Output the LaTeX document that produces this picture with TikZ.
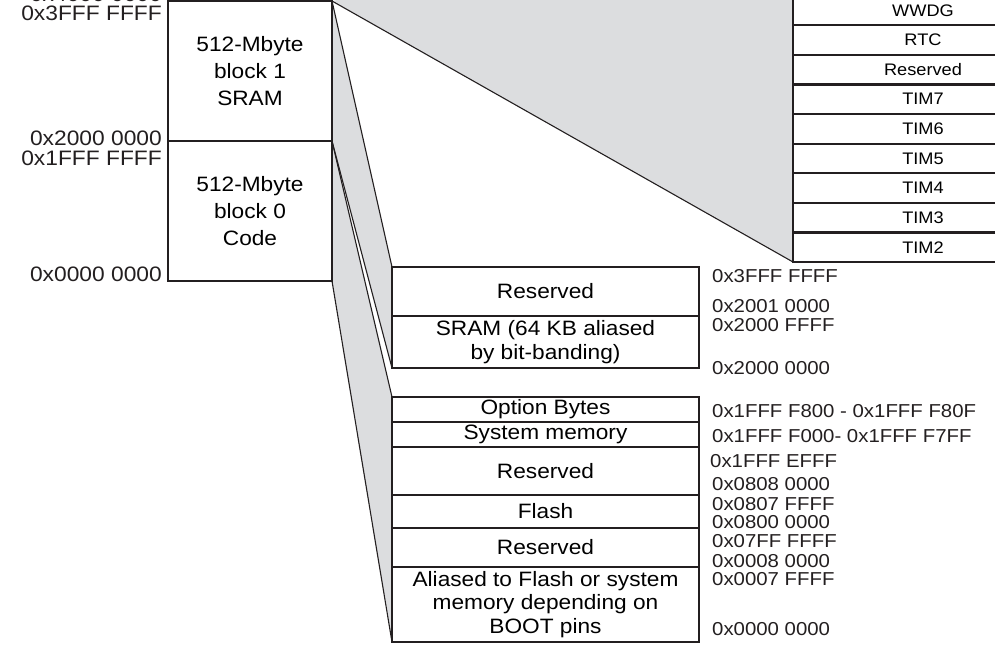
\documentclass[tikz,border=0pt]{standalone}
\usepackage{fontspec}
\setmainfont[FakeStretch=1.09]{Liberation Sans}
\usetikzlibrary{positioning,backgrounds}
\definecolor{lineblack}{RGB}{35,31,32}
\definecolor{fillgray}{RGB}{220,221,223}
\tikzset{
  memblock/.style={
    draw=lineblack,
    fill=white,
    line width=2.2pt,
    rectangle,
    minimum width=164pt,
    minimum height=140pt,
    outer sep=0pt,
    inner sep=1pt,
    align=center,
    font=\fontsize{20.8}{27}\selectfont
  },
  memrow/.style={
    draw=lineblack,
    fill=white,
    line width=2.2pt,
    rectangle,
    minimum width=307pt,
    outer sep=0pt,
    inner sep=1pt,
    align=center,
    font=\fontsize{20.8}{23.5}\selectfont
  },
  perirow/.style={
    draw=lineblack,
    fill=white,
    line width=2.2pt,
    rectangle,
    minimum width=260pt,
    minimum height=29.6pt,
    outer sep=0pt,
    inner sep=1pt,
    font=\fontsize{16.7}{20}\selectfont
  },
  addr/.style={anchor=base west, inner sep=0pt, text=lineblack,
    font=\fontsize{18.7}{21}\selectfont},
  addrleft/.style={addr, anchor=base east, font=\fontsize{20.9}{23}\selectfont},
  wedge/.style={fill=fillgray, draw=none},
  edgeline/.style={draw=lineblack, line width=1.1pt}
}

\begin{document}
\begin{tikzpicture}[x=1pt, y=-1pt, node distance=0pt]
\useasboundingbox (0,0) rectangle (995,654);
\clip (0,0) rectangle (995,654);

% 512-Mbyte blocks
\node[memblock] (blk1) at (250,71) {512-Mbyte\\block 1\\SRAM};
\node[memblock, below=of blk1] (blk0) {512-Mbyte\\block 0\\Code};

\node[addrleft] (a4000) at (162,1) {0x4000 0000};
\node[addrleft] (a3fffl) at (162,20) {0x3FFF FFFF};
\node[addrleft] (a2000l) at (162,145) {0x2000 0000};
\node[addrleft] (a1fffl) at (162,165) {0x1FFF FFFF};
\node[addrleft] (a0000l) at (162,281) {0x0000 0000};

% APB peripherals
\node[perirow] (tim2) at (923,247.2) {TIM2};
\node[perirow, above=of tim2] (tim3) {TIM3};
\node[perirow, above=of tim3] (tim4) {TIM4};
\node[perirow, above=of tim4] (tim5) {TIM5};
\node[perirow, above=of tim5] (tim6) {TIM6};
\node[perirow, above=of tim6] (tim7) {TIM7};
\node[perirow, above=of tim7] (perres) {Reserved};
\node[perirow, above=of perres] (rtc) {RTC};
\node[perirow, above=of rtc] (wwdg) {WWDG};
\coordinate (peritop) at ([yshift=80pt]wwdg.north west);

% SRAM region
\node[memrow, minimum height=49pt] (sramres) at (545.5,291.5) {Reserved};
\node[memrow, minimum height=52pt, below=of sramres] (sram) {SRAM (64 KB aliased\\by bit-banding)};

\node[addr] (a3fffr) at (712,282) {0x3FFF FFFF};
\node[addr] (a2001) at (712,312) {0x2001 0000};
\node[addr] (a2000f) at (712,331) {0x2000 FFFF};
\node[addr] (a2000r) at (712,374) {0x2000 0000};

% Code region
\node[memrow, minimum height=25pt] (optb) at (545.5,409.5) {Option Bytes};
\node[memrow, minimum height=25pt, below=of optb] (sysmem) {System memory};
\node[memrow, minimum height=48pt, below=of sysmem] (coderes1) {Reserved};
\node[memrow, minimum height=33pt, below=of coderes1] (flash) {Flash};
\node[memrow, minimum height=39pt, below=of flash] (coderes2) {Reserved};
\node[memrow, minimum height=75pt, below=of coderes2] (alias) {Aliased to Flash or system\\memory depending on\\BOOT pins};

\node[addr] (aoptb) at (712,417) {0x1FFF F800 - 0x1FFF F80F};
\node[addr] (asysm) at (712,442) {0x1FFF F000- 0x1FFF F7FF};
\node[addr] (a1fffe) at (710,467) {0x1FFF EFFF};
\node[addr] (a0808) at (712,490) {0x0808 0000};
\node[addr] (a0807) at (712,510) {0x0807 FFFF};
\node[addr] (a0800) at (712,528) {0x0800 0000};
\node[addr] (a07ff) at (712,547) {0x07FF FFFF};
\node[addr] (a0008) at (712,567) {0x0008 0000};
\node[addr] (a0007) at (712,585) {0x0007 FFFF};
\node[addr] (a0000r) at (712,635) {0x0000 0000};

% Wedges
\begin{scope}[on background layer]
\fill[wedge] (blk1.north east) -- (peritop) -- (tim2.south west) -- cycle;
\fill[wedge] (blk1.north east) -- (sramres.north west) -- (sram.south west) -- (blk1.south east) -- cycle;
\fill[wedge] (blk0.north east) -- (optb.north west) -- (alias.south west) -- (blk0.south east) -- cycle;
\end{scope}

\draw[edgeline] (blk1.north east) -- (tim2.south west);
\draw[edgeline] (blk1.north east) -- (sramres.north west);
\draw[edgeline] (blk1.south east) -- (sram.south west);
\draw[edgeline] (blk0.north east) -- (optb.north west);
\draw[edgeline] (blk0.south east) -- (alias.south west);

\end{tikzpicture}
\end{document}
